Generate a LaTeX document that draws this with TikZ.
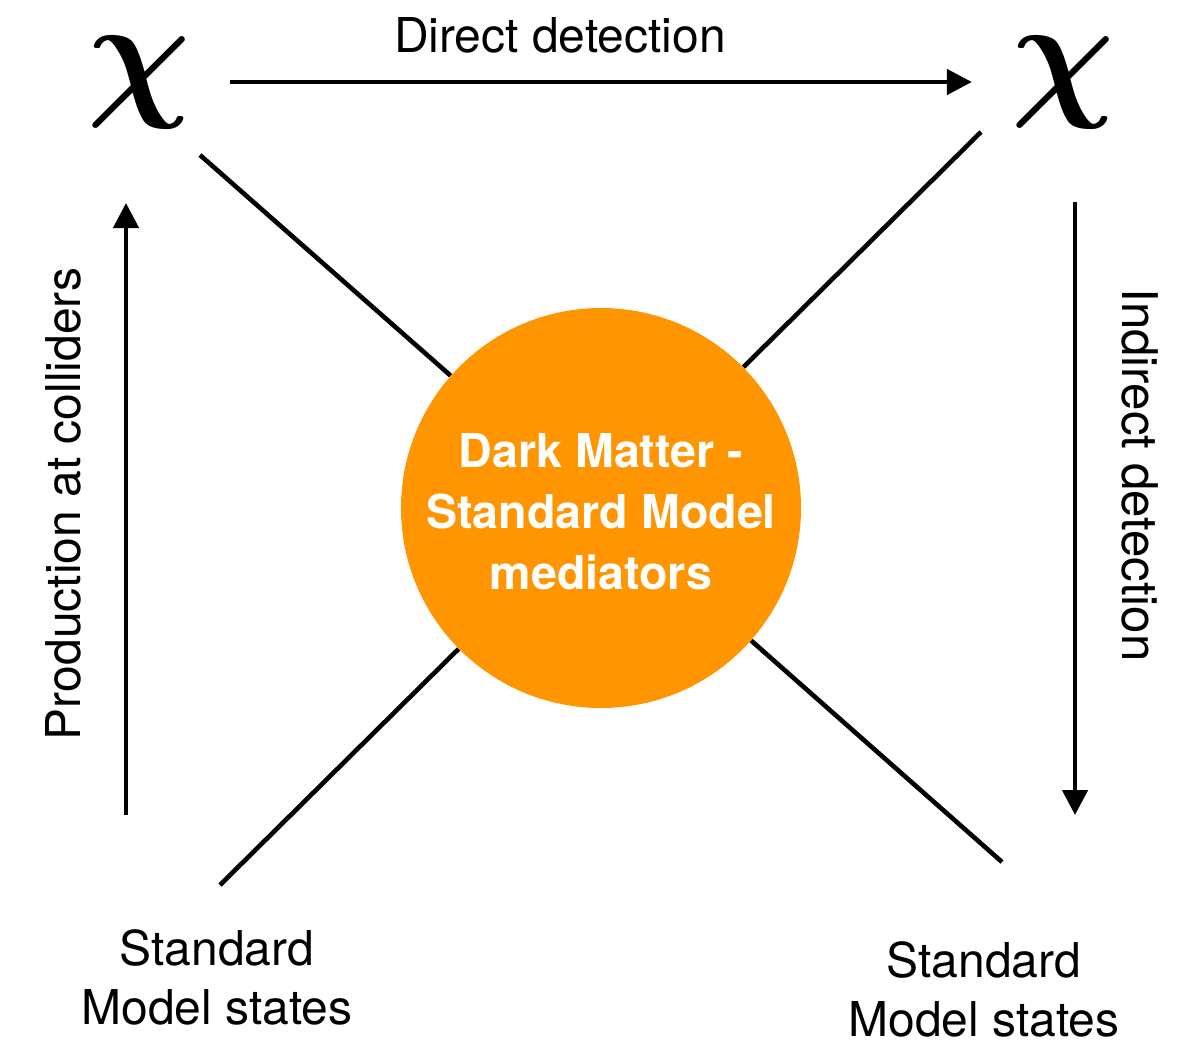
\documentclass[tikz,border=0pt]{standalone}
\usepackage{fontspec}
\setmainfont{TeX Gyre Heros}
\usetikzlibrary{arrows.meta}
\definecolor{dmorange}{HTML}{FF9500}
\begin{document}
\begin{tikzpicture}[x=0.5pt,y=-0.5pt,
  conn/.style={line width=2.3pt},
  arr/.style={conn,-{Triangle[length=12.5pt,width=12.5pt]}},
  lbl/.style={font=\fontsize{24}{29.5}\selectfont, inner sep=0pt},
  chinode/.style={inner sep=0pt},
]
\useasboundingbox (0,0) rectangle (1178,1040);
% particles
\node[chinode] (chiL) at (139,82) {\scalebox{7.2}{\boldmath$\chi$}};
\node[chinode] (chiR) at (1063,82) {\scalebox{7.2}{\boldmath$\chi$}};
% mediator
\node[circle, fill=dmorange, minimum size=200pt, inner sep=0pt] (med) at (601,508) {};
\node[font=\bfseries\fontsize{23.3}{30.5}\selectfont, text=white, align=center, inner sep=0pt] (medtxt) at (601,512) {Dark Matter -\\Standard Model\\mediators};
% free ends
\coordinate (tl) at (200,155);
\coordinate (tr) at (981,132);
\coordinate (bl) at (220,885);
\coordinate (br) at (1002,862);
\coordinate (pl0) at (126,815);
\coordinate (pl1) at (126,203);
\coordinate (ir0) at (1075,202);
\coordinate (ir1) at (1075,815);
% connectors
\draw[arr, shorten <=19.5pt, shorten >=19.5pt] (chiL) -- (chiR);
\draw[conn] (tl) -- (med);
\draw[conn] (tr) -- (med);
\draw[conn] (bl) -- (med);
\draw[conn] (br) -- (med);
\draw[arr] (pl0) -- (pl1);
\draw[arr] (ir0) -- (ir1);
% labels
\node[lbl, anchor=base] (dd) at (560,52) {Direct detection};
\node[lbl, rotate=90, anchor=base] (prod) at (80,504) {Production at colliders};
\node[lbl, rotate=-90, anchor=base, font=\fontsize{24.6}{29.5}\selectfont] (ind) at (1122,475) {Indirect detection};
\node[lbl, anchor=north, align=center] (smL) at (217,929) {Standard\\Model states};
\node[lbl, anchor=north, align=center] (smR) at (984,941) {Standard\\Model states};
\end{tikzpicture}
\end{document}
